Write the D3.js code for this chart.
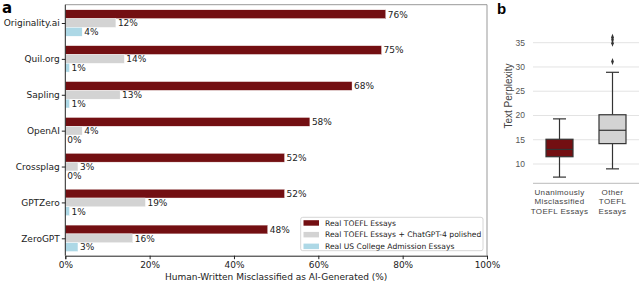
<!DOCTYPE html>
<html><head><meta charset="utf-8">
<script src="https://cdn.jsdelivr.net/npm/d3@7"></script>
<style>
body{margin:0;background:#fff;}
svg{display:block;}
text{font-family:"DejaVu Sans",sans-serif;}
.b text{font-family:"Liberation Sans",Arial,sans-serif;}
</style></head>
<body>
<svg id="c" width="640" height="283"></svg>
<script>
// ---------- Data ----------
const detectors = ["Originality.ai","Quil.org","Sapling","OpenAI","Crossplag","GPTZero","ZeroGPT"];
const toeflReal = [76,75,68,58,52,52,48];
const toeflPolished = [12,14,13,4,3,19,16];
const usCollege = [4,1,1,0,0,1,3];
const seriesNames = ["Real TOEFL Essays","Real TOEFL Essays + ChatGPT-4 polished","Real US College Admission Essays"];
const xTicks = [0,20,40,60,80,100];

const boxGroups = [["Unanimously","Misclassified","TOEFL Essays"],["Other","TOEFL","Essays"]];
const boxQ1 = [11.5,14.2];
const boxMedian = [13.0,16.95];
const boxQ3 = [15.1,20.15];
const boxLow = [7.3,9.0];
const boxHigh = [19.3,28.9];
const boxOutliers = [[],[36.1,35.6,34.9,31.1]];
const yTicksB = [10,15,20,25,30,35];

const colors = ["#730f12","#d3d3d3","#add8e6"];
const svg = d3.select("#c");

// ---------- Panel a ----------
const L=65.3, R=487, T=4.7, B=255.7;
const x = d3.scaleLinear().domain([0,100]).range([L,R]);
const y = d3.scalePoint().domain(detectors).range([23,238.3]);
const bh = 8.8;
const ga = svg.append("g");
const series=[toeflReal,toeflPolished,usCollege];
series.forEach((vals,si)=>{
  const off=(si-1)*bh;
  ga.selectAll(null).data(detectors).enter().append("rect")
    .attr("x",x(0)).attr("y",d=>y(d)+off-bh/2)
    .attr("width",(d,i)=>x(vals[i])-x(0)).attr("height",bh)
    .attr("fill",colors[si]).attr("stroke","#fff").attr("stroke-width",0.4);
  ga.selectAll(null).data(detectors).enter().append("text")
    .attr("x",(d,i)=>x(vals[i])+2).attr("y",d=>y(d)+off+3.3)
    .attr("font-size",9).attr("fill","#222")
    .text((d,i)=>vals[i]+"%");
});
// frame
ga.append("line").attr("x1",L).attr("x2",R).attr("y1",T).attr("y2",T).attr("stroke","#999").attr("stroke-width",1);
ga.append("line").attr("x1",R).attr("x2",R).attr("y1",T).attr("y2",B).attr("stroke","#999").attr("stroke-width",1);
// axes
const xa = ga.append("g").attr("transform",`translate(0,${B})`)
  .call(d3.axisBottom(x).tickValues(xTicks).tickFormat(d=>d+"%").tickSizeOuter(0).tickSize(3.5).tickPadding(2));
xa.select(".domain").attr("stroke","#222");
xa.selectAll("text").attr("font-size",9).attr("fill","#222").attr("font-family","DejaVu Sans");
xa.selectAll(".tick line").attr("stroke","#222");
const ya = ga.append("g").attr("transform",`translate(${L},0)`)
  .call(d3.axisLeft(y).tickSizeOuter(0).tickSize(3.5).tickPadding(2));
ya.select(".domain").attr("stroke","#222").attr("d",`M0,${T}V${B}`);
ya.selectAll("text").attr("font-size",9).attr("fill","#222").attr("font-family","DejaVu Sans");
ya.selectAll(".tick line").attr("stroke","#222");
ga.append("text").attr("x",(L+R)/2).attr("y",280).attr("text-anchor","middle")
  .attr("font-size",9).attr("fill","#222").text("Human-Written Misclassified as AI-Generated (%)");
ga.append("text").attr("x",2).attr("y",13).attr("font-size",15).attr("font-weight","bold").text("a");
// legend
const lg = ga.append("g");
lg.append("rect").attr("x",300.7).attr("y",217.3).attr("width",182.3).attr("height",33.4)
  .attr("fill","#fff").attr("fill-opacity",0.85).attr("stroke","#ccc").attr("stroke-width",0.8).attr("rx",2);
seriesNames.forEach((s,i)=>{
  const cy=222.7+i*11.7;
  lg.append("rect").attr("x",303.5).attr("y",cy-2.5).attr("width",15.5).attr("height",5.5).attr("fill",colors[i]);
  lg.append("text").attr("x",325).attr("y",cy+3).attr("font-size",7.6).attr("fill","#222").text(s);
});

// ---------- Panel b ----------
const gb = svg.append("g").attr("class","b");
const bL=533, bR=639;
const yb = d3.scaleLinear().domain([10,35]).range([164,42.7]);
const xb = d3.scaleBand().domain([0,1]).range([bL,bR-0]).padding(0);
const bottomB = 183.3;
yTicksB.forEach(t=>{
  gb.append("line").attr("x1",bL).attr("x2",bR).attr("y1",yb(t)).attr("y2",yb(t)).attr("stroke","#e3e3e3").attr("stroke-width",1);
});
gb.selectAll(null).data(yTicksB).enter().append("text")
  .attr("x",525).attr("y",d=>yb(d)+3).attr("text-anchor","end")
  .attr("font-size",8.5).attr("fill","#555").text(d=>d);
gb.append("line").attr("x1",bL).attr("x2",bR).attr("y1",bottomB).attr("y2",bottomB).attr("stroke","#bbb").attr("stroke-width",1);
gb.append("text").attr("transform",`translate(512,96) rotate(-90)`).attr("text-anchor","middle")
  .attr("font-size",10).attr("fill","#444").text("Text Perplexity");
const bw=27, cw=13;
const boxFill=[colors[0],colors[1]];
[0,1].forEach(i=>{
  const cx = xb(i)+xb.bandwidth()/2;
  const st="#333";
  gb.append("line").attr("x1",cx).attr("x2",cx).attr("y1",yb(boxHigh[i])).attr("y2",yb(boxQ3[i])).attr("stroke",st).attr("stroke-width",1.2);
  gb.append("line").attr("x1",cx).attr("x2",cx).attr("y1",yb(boxQ1[i])).attr("y2",yb(boxLow[i])).attr("stroke",st).attr("stroke-width",1.2);
  gb.append("line").attr("x1",cx-cw/2).attr("x2",cx+cw/2).attr("y1",yb(boxHigh[i])).attr("y2",yb(boxHigh[i])).attr("stroke",st).attr("stroke-width",1.2);
  gb.append("line").attr("x1",cx-cw/2).attr("x2",cx+cw/2).attr("y1",yb(boxLow[i])).attr("y2",yb(boxLow[i])).attr("stroke",st).attr("stroke-width",1.2);
  gb.append("rect").attr("x",cx-bw/2).attr("y",yb(boxQ3[i])).attr("width",bw).attr("height",yb(boxQ1[i])-yb(boxQ3[i]))
    .attr("fill",boxFill[i]).attr("stroke",st).attr("stroke-width",1.2);
  gb.append("line").attr("x1",cx-bw/2).attr("x2",cx+bw/2).attr("y1",yb(boxMedian[i])).attr("y2",yb(boxMedian[i])).attr("stroke",st).attr("stroke-width",1.2);
  boxOutliers[i].forEach(o=>{
    gb.append("path").attr("d",d3.symbol(d3.symbolDiamond,10)()).attr("transform",`translate(${cx},${yb(o)}) scale(0.8,1.2)`).attr("fill","#333");
  });
  boxGroups[i].forEach((ln,j)=>{
    gb.append("text").attr("x",cx).attr("y",195+j*9.3).attr("text-anchor","middle")
      .attr("font-size",8).attr("letter-spacing",0.35).attr("fill","#444").text(ln);
  });
});
gb.append("text").attr("x",497).attr("y",14).attr("font-size",15).attr("font-weight","bold").attr("font-family","DejaVu Sans").text("b");
</script>
</body></html>
